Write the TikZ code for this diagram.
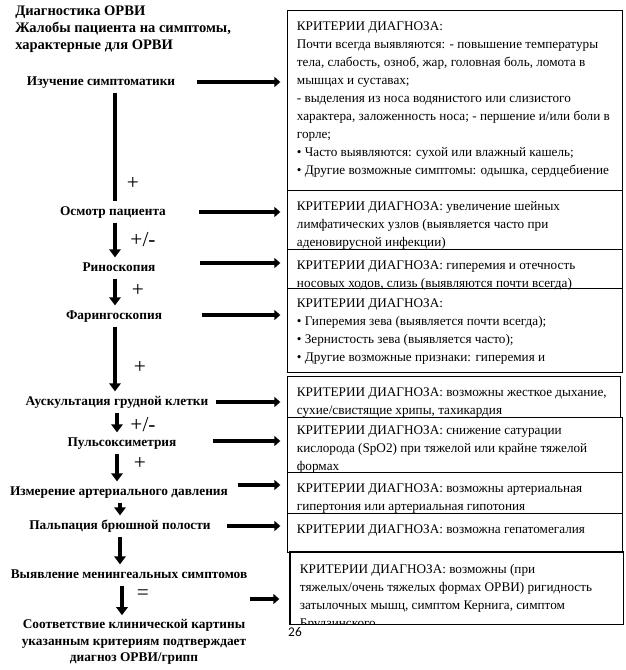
\documentclass[tikz,border=0pt]{standalone}
\usepackage{fontspec}
\setmainfont{Liberation Serif}
\newfontfamily\pagefont{Carlito}
\usetikzlibrary{arrows.meta,positioning}
\newcommand\critfont{\fontsize{9.9}{13.5}\selectfont}
\newcommand\critbox[4][5.5pt]{\vbox to #3{\hsize=#2\parindent=0pt\leftskip=7pt\rightskip=-20pt plus 1fil\relax\vskip #1\strut #4\par\vss}}
\tikzset{every picture/.style={x=0.75pt,y=-0.75pt},
  crit/.style={draw,line width=0.9pt,anchor=north west,inner sep=0pt,font=\critfont},
  stagelbl/.style={font=\bfseries\fontsize{10}{12}\selectfont,inner xsep=0pt,inner ysep=3.2pt,text height=7pt,text depth=2.2pt},
  signlbl/.style={font=\fontsize{16}{18}\selectfont,inner sep=0pt},
  harr/.style={-{Triangle[length=4.5pt,width=7.5pt]},line width=3pt,shorten >=5pt},
  varr/.style={-{Triangle[length=6pt,width=8.5pt]},line width=3.5pt},
  vline/.style={line width=3.5pt}}

\begin{document}
\begin{tikzpicture}
\useasboundingbox (0,0) rectangle (625,670);
\node[anchor=west,align=left,inner sep=0pt,font=\bfseries\fontsize{10.9}{12.75}\selectfont] (title) at (15,29)
  {Диагностика ОРВИ\\Жалобы пациента на симптомы,\\характерные для ОРВИ};

\node[stagelbl] (l1) at (101,82) {Изучение симптоматики};
\node[stagelbl] (l2) at (113,212) {Осмотр пациента};
\node[stagelbl] (l3) at (119,268) {Риноскопия};
\node[stagelbl] (l4) at (114,316) {Фарингоскопия};
\node[stagelbl] (l5) at (117,402) {Аускультация грудной клетки};
\node[stagelbl] (l6) at (122,443) {Пульсоксиметрия};
\node[stagelbl] (l7) at (119,492) {Измерение артериального давления};
\node[stagelbl] (l8) at (120,526) {Пальпация брюшной полости};
\node[stagelbl] (l9) at (129,575) {Выявление менингеальных симптомов};
\node[align=center,inner sep=0pt,font=\bfseries\fontsize{10}{12.4}\selectfont] (l10) at (134,642)
  {Соответствие клинической картины\\указанным критериям подтверждает\\диагноз ОРВИ/грипп};

\node[crit] (b1) at (287,10) {\critbox{251.25pt}{135pt}{КРИТЕРИИ ДИАГНОЗА:\\
  Почти всегда выявляются: - повышение температуры\\
  тела, слабость, озноб, жар, головная боль, ломота в\\
  мышцах и суставах;\\
  - выделения из носа водянистого или слизистого\\
  характера, заложенность носа; - першение и/или боли в\\
  горле;\\
  • Часто выявляются: сухой или влажный кашель;\\
  • Другие возможные симптомы: одышка, сердцебиение}};
\node[crit] (b2) at (287,190) {\critbox{251.25pt}{44.25pt}{КРИТЕРИИ ДИАГНОЗА: увеличение шейных\\
  лимфатических узлов (выявляется часто при\\
  аденовирусной инфекции)}};
\node[crit] (b3) at (287,249) {\critbox{251.25pt}{29.25pt}{КРИТЕРИИ ДИАГНОЗА: гиперемия и отечность\\
  носовых ходов, слизь (выявляются почти всегда)}};
\node[crit] (b4) at (287,288) {\critbox[5pt]{251.25pt}{63pt}{КРИТЕРИИ ДИАГНОЗА:\\
  • Гиперемия зева (выявляется почти всегда);\\
  • Зернистость зева (выявляется часто);\\
  • Другие возможные признаки: гиперемия и}};
\node[crit] (b5) at (287,376) {\critbox{249.75pt}{30.75pt}{КРИТЕРИИ ДИАГНОЗА: возможны жесткое дыхание,\\
  сухие/свистящие хрипы, тахикардия}};
\node[crit] (b6) at (287,417) {\critbox[3.25pt]{251.25pt}{41.25pt}{КРИТЕРИИ ДИАГНОЗА: снижение сатурации\\
  кислорода (SpO2) при тяжелой или крайне тяжелой\\
  формах}};
\node[crit] (b7) at (287,472) {\critbox{251.25pt}{30.75pt}{КРИТЕРИИ ДИАГНОЗА: возможны артериальная\\
  гипертония или артериальная гипотония}};
\node[crit] (b8) at (287,513) {\critbox{251.25pt}{29.25pt}{КРИТЕРИИ ДИАГНОЗА: возможна гепатомегалия}};
\begin{scope}
\clip (289,551) rectangle (623,623);
\node[crit,draw=none] (b9) at (290,552) {\critbox[6pt]{249pt}{53.25pt}{КРИТЕРИИ ДИАГНОЗА: возможны (при\\
  тяжелых/очень тяжелых формах ОРВИ) ригидность\\
  затылочных мышц, симптом Кернига, симптом\\
  Брудзинского}};
\end{scope}
\draw[line width=0.9pt] (b9.north west) rectangle (b9.south east);
\node[font=\pagefont\fontsize{10}{12}\selectfont,inner sep=0pt] (page) at (295,632) {26};

\coordinate (s1) at (115,0);
\coordinate (s2) at (117,0);
\coordinate (s3) at (120,0);
\coordinate (s4) at (122,0);
\draw[vline] (l1.south -| s1) -- (l2.north -| s1);
\draw[varr] (l2.south -| s1) -- (l3.north -| s1);
\draw[varr] (l3.south -| s1) -- (l4.north -| s1);
\draw[varr] (l4.south -| s1) -- (l5.north -| s1);
\draw[varr] (l5.south -| s2) -- (l6.north -| s2);
\draw[varr] (l6.south -| s2) -- (l7.north -| s2);
\draw[varr] (l7.south -| s3) -- (l8.north -| s3);
\draw[varr] (l8.south -| s3) -- (l9.north -| s3);
\draw[varr,shorten >=3pt] (l9.south -| s4) -- (l10.north -| s4);

\node[signlbl] (p1) at (133,183) {+};
\node[signlbl] (p2) at (143,240) {+/-};
\node[signlbl] (p3) at (138,290) {+};
\node[signlbl] (p4) at (140,367) {+};
\node[signlbl] (p5) at (143,425) {+/-};
\node[signlbl] (p6) at (140,463) {+};
\node[signlbl] (p7) at (143,595) {=};

\coordinate (t1) at (197,82);
\coordinate (t2) at (199,212);
\coordinate (t3) at (200,263);
\coordinate (t4) at (202,315);
\coordinate (t5) at (216,402);
\coordinate (t6) at (213,441);
\coordinate (t7) at (238,485);
\coordinate (t8) at (227,526);
\coordinate (t9) at (250,599);
\draw[harr] (t1) -- (t1 -| b1.west);
\draw[harr] (t2) -- (t2 -| b2.west);
\draw[harr] (t3) -- (t3 -| b3.west);
\draw[harr] (t4) -- (t4 -| b4.west);
\draw[harr] (t5) -- (t5 -| b5.west);
\draw[harr] (t6) -- (t6 -| b6.west);
\draw[harr] (t7) -- (t7 -| b7.west);
\draw[harr] (t8) -- (t8 -| b8.west);
\draw[harr,shorten >=8pt] (t9) -- (t9 -| b9.west);
\end{tikzpicture}
\end{document}
